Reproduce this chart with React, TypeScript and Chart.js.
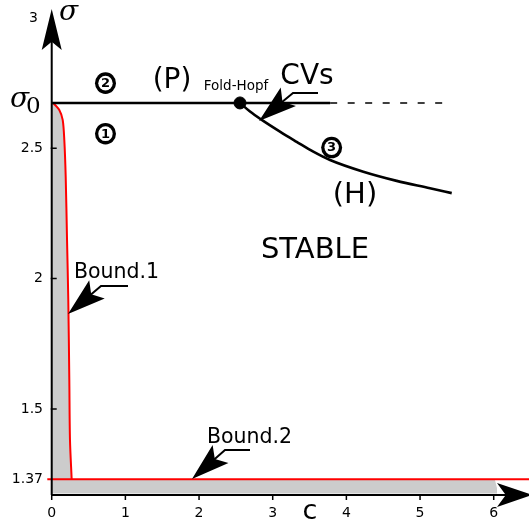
import React, { useEffect, useRef } from "react";
import { Chart, registerables } from "chart.js";

Chart.register(...registerables);

// ---- data ----
const sigma0 = 2.674;
const pSolidC = [0, 3.78];
const pDashedC = [3.78, 5.43];
const foldHopfC = 2.556;
const hopfC = [2.556, 2.692, 2.851, 3.098, 3.325, 3.551, 3.778, 4.23, 4.683, 5.135, 5.43];
const hopfS = [2.674, 2.641, 2.609, 2.564, 2.525, 2.487, 2.455, 2.41, 2.375, 2.347, 2.328];
const bound1C = [0, 0.022, 0.103, 0.149, 0.171, 0.19, 0.208, 0.225, 0.239, 0.248, 0.271];
const bound1S = [2.674, 2.673, 2.647, 2.609, 2.532, 2.39, 2.148, 1.918, 1.611, 1.381, 1.23];
const bound2S = 1.23;
const bound2C = [-0.06, 6.6];
const grayBottomS = 1.176;
const grayRightC = 6.045;
const xTickValues = [0, 1, 2, 3, 4, 5, 6];
const xTickLabels = ["0", "1", "2", "3", "4", "5", "6"];
const yTickValues = [1.23, 1.5, 2, 2.5, 3];
const yTickLabels = ["1.37", "1.5", "2", "2.5", "3"];

const X_MIN = -0.702;
const X_MAX = 6.479;
const Y_MAX = 3.069;
const Y_MIN = 1.047;

function stealth(ctx: CanvasRenderingContext2D, fx: number, fy: number, tx: number, ty: number, L: number, W: number, notch = 0.78) {
  const dx = tx - fx, dy = ty - fy;
  const d = Math.hypot(dx, dy);
  const ux = dx / d, uy = dy / d;
  const px = -uy, py = ux;
  const bx = tx - ux * L, by = ty - uy * L;
  const nx = tx - ux * L * notch, ny = ty - uy * L * notch;
  ctx.beginPath();
  ctx.moveTo(tx, ty);
  ctx.lineTo(bx + px * W, by + py * W);
  ctx.lineTo(nx, ny);
  ctx.lineTo(bx - px * W, by - py * W);
  ctx.closePath();
  ctx.fill();
}

const overlay = {
  id: "overlay",
  afterDatasetsDraw(chart: any) {
    const ctx: CanvasRenderingContext2D = chart.ctx;
    const xs = chart.scales.x, ys = chart.scales.y;
    const X = (v: number) => xs.getPixelForValue(v);
    const Y = (v: number) => ys.getPixelForValue(v);
    const x0 = X(0), yb = Y(grayBottomS) + 1.5;
    ctx.save();
    ctx.strokeStyle = "#000";
    ctx.fillStyle = "#000";
    ctx.lineWidth = 2;
    // axes
    ctx.beginPath();
    ctx.moveTo(x0, yb);
    ctx.lineTo(x0, 30);
    ctx.moveTo(x0, yb);
    ctx.lineTo(510, yb);
    ctx.stroke();
    stealth(ctx, x0, 60, x0, 9, 41, 10, 0.8);
    stealth(ctx, 480, yb, 532, yb, 35, 12, 0.75);
    // ticks
    ctx.lineWidth = 1.5;
    ctx.beginPath();
    xTickValues.forEach((v) => {
      ctx.moveTo(X(v), yb);
      ctx.lineTo(X(v), yb + 5);
    });
    yTickValues.slice(1, 4).forEach((v) => {
      ctx.moveTo(x0 - 1, Y(v));
      ctx.lineTo(x0 + 5, Y(v));
    });
    ctx.stroke();
    // tick labels
    ctx.font = "14px 'DejaVu Sans'";
    ctx.textAlign = "center";
    ctx.textBaseline = "middle";
    xTickValues.forEach((v, i) => ctx.fillText(xTickLabels[i], X(v), 513));
    ctx.textAlign = "right";
    yTickValues.forEach((v, i) => {
      const lbl = yTickLabels[i];
      ctx.fillText(lbl, lbl === "3" ? 38 : 43, Y(v));
    });
    // axis titles
    ctx.textAlign = "left";
    ctx.font = "italic 28px 'DejaVu Serif'";
    ctx.fillText("σ", 59, 13);
    ctx.fillText("σ", 10, 100);
    ctx.font = "23px 'DejaVu Serif'";
    ctx.fillText("0", 26, 107);
    ctx.font = "27px 'DejaVu Sans'";
    ctx.textAlign = "center";
    ctx.fillText("c", 310, 512);
    // region labels
    ctx.font = "28px 'DejaVu Sans'";
    ctx.fillText("(P)", 172, 81);
    ctx.font = "29px 'DejaVu Sans'";
    ctx.fillText("(H)", 355, 195);
    ctx.fillText("STABLE", 315, 250);
    ctx.font = "28px 'DejaVu Sans'";
    ctx.fillText("CVs", 307, 77);
    ctx.font = "13.5px 'DejaVu Sans'";
    ctx.fillText("Fold-Hopf", 236, 86);
    ctx.font = "20.5px 'DejaVu Sans'";
    ctx.textAlign = "left";
    ctx.fillText("Bound.1", 74, 273);
    ctx.fillText("Bound.2", 207, 438);
    // annotation arrows
    ctx.lineWidth = 2;
    const arrows = [
      [318, 93, 293, 93, 259, 121],
      [128, 286, 101, 286, 68, 314],
      [250, 450, 225, 450, 192, 479],
    ];
    arrows.forEach(([ax, ay, bx, by, tx, ty]) => {
      ctx.beginPath();
      ctx.moveTo(ax, ay);
      ctx.lineTo(bx, by);
      ctx.lineTo(tx + (bx - tx) * 0.5, ty + (by - ty) * 0.5);
      ctx.stroke();
      stealth(ctx, bx, by, tx, ty, 38, 12, 0.8);
    });
    // circled numbers
    const circ = [
      ["2", 0.73, 2.75],
      ["1", 0.73, 2.556],
      ["3", 3.8, 2.503],
    ] as [string, number, number][];
    circ.forEach(([t, c, s]) => {
      const cx = X(c), cy = Y(s);
      ctx.fillStyle = "#000";
      ctx.beginPath();
      ctx.ellipse(cx, cy, 10.5, 10.8, 0, 0, Math.PI * 2);
      ctx.fill();
      ctx.fillStyle = "#fff";
      ctx.beginPath();
      ctx.ellipse(cx, cy, 7.2, 7.4, 0, 0, Math.PI * 2);
      ctx.fill();
      ctx.fillStyle = "#000";
      ctx.font = "bold 13px 'DejaVu Sans'";
      ctx.textAlign = "center";
      ctx.textBaseline = "middle";
      ctx.fillText(t, cx, cy + 0.5);
    });
    ctx.restore();
  },
};

export default function App() {
  const ref = useRef<HTMLCanvasElement>(null);
  useEffect(() => {
    if (!ref.current) return;
    const grayPoly = [
      ...bound1C.map((c, i) => ({ x: c, y: bound1S[i] })),
      { x: grayRightC - 0.03, y: bound2S },
      { x: grayRightC, y: grayBottomS + 0.02 },
      { x: grayRightC, y: grayBottomS },
      { x: 0, y: grayBottomS },
      { x: 0, y: sigma0 },
    ];
    const chart = new Chart(ref.current, {
      type: "scatter",
      data: {
        datasets: [
          {
            data: grayPoly,
            showLine: true,
            fill: "shape" as any,
            backgroundColor: "#cccccc",
            borderWidth: 0,
            borderColor: "rgba(0,0,0,0)",
            pointRadius: 0,
            order: 10,
          },
          {
            data: bound1C.map((c, i) => ({ x: c, y: bound1S[i] })),
            showLine: true,
            borderColor: "#ff0000",
            borderWidth: 2,
            pointRadius: 0,
            tension: 0.3,
            order: 5,
          },
          {
            data: bound2C.map((c) => ({ x: c, y: bound2S })),
            showLine: true,
            borderColor: "#ff0000",
            borderWidth: 2,
            pointRadius: 0,
            order: 5,
          },
          {
            data: pSolidC.map((c) => ({ x: c, y: sigma0 })),
            showLine: true,
            borderColor: "#000",
            borderWidth: 2.6,
            pointRadius: 0,
            order: 3,
          },
          {
            data: pDashedC.map((c) => ({ x: c, y: sigma0 })),
            showLine: true,
            borderColor: "#000",
            borderWidth: 1.4,
            borderDash: [7, 10.5],
            pointRadius: 0,
            order: 3,
          },
          {
            data: hopfC.map((c, i) => ({ x: c, y: hopfS[i] })),
            showLine: true,
            borderColor: "#000",
            borderWidth: 2.6,
            pointRadius: 0,
            cubicInterpolationMode: "monotone",
            order: 2,
          },
          {
            data: [{ x: foldHopfC, y: sigma0 }],
            pointRadius: 6,
            pointBackgroundColor: "#000",
            pointBorderColor: "#000",
            order: 1,
          },
        ],
      },
      options: {
        animation: false,
        responsive: false,
        devicePixelRatio: 1,
        layout: { padding: 0, autoPadding: false },
        plugins: { legend: { display: false }, tooltip: { enabled: false } },
        scales: {
          x: { type: "linear", min: X_MIN, max: X_MAX, display: false },
          y: { type: "linear", min: Y_MIN, max: Y_MAX, display: false },
        },
      },
      plugins: [overlay],
    });
    return () => chart.destroy();
  }, []);
  return (
    <canvas
      ref={ref}
      width={529}
      height={527}
      style={{ position: "fixed", left: 0, top: 0, width: 529, height: 527 }}
    />
  );
}
